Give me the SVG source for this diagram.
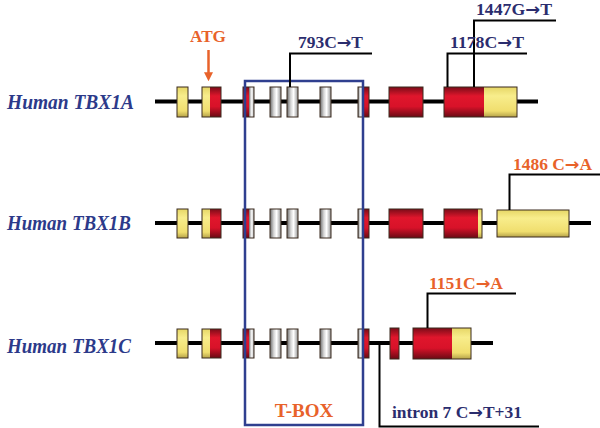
<svg xmlns="http://www.w3.org/2000/svg" width="600" height="428" viewBox="0 0 600 428">
<defs>
<linearGradient id="gRed" x1="0" y1="0" x2="0" y2="1">
<stop offset="0" stop-color="#7a0c18"/>
<stop offset="0.3" stop-color="#e0162c"/>
<stop offset="0.65" stop-color="#d81229"/>
<stop offset="1" stop-color="#6a0a14"/>
</linearGradient>
<linearGradient id="gYel" x1="0" y1="0" x2="0" y2="1">
<stop offset="0" stop-color="#e6d666"/>
<stop offset="0.3" stop-color="#f8ed8c"/>
<stop offset="0.8" stop-color="#f0de6e"/>
<stop offset="1" stop-color="#b5a24a"/>
</linearGradient>
<linearGradient id="gWht" x1="0" y1="0" x2="1" y2="0">
<stop offset="0" stop-color="#6a6a6a"/>
<stop offset="0.35" stop-color="#d6d6d6"/>
<stop offset="0.6" stop-color="#ffffff"/>
<stop offset="1" stop-color="#949494"/>
</linearGradient>
<marker id="arrOrange" viewBox="0 0 10 10" refX="2" refY="5" markerWidth="9" markerHeight="10" markerUnits="userSpaceOnUse" orient="auto">
<path d="M0,0 L10,5 L0,10 Z" fill="#e8622a"/>
</marker>
</defs>
<style>
.bb{stroke:#000;stroke-width:4;fill:none}
.r{fill:url(#gRed)}
.y{fill:url(#gYel)}
.w{fill:url(#gWht)}
.o{fill:none;stroke:#3a2a1e;stroke-width:1}
.lbl{font-family:"Liberation Serif","Times New Roman",serif;font-weight:bold;font-style:italic;font-size:20px;fill:#2c3a8a}
.mut{font-family:"Liberation Serif","Times New Roman",serif;font-weight:bold;font-size:16.5px;fill:#2b2d6e}
.mo{font-family:"Liberation Serif","Times New Roman",serif;font-weight:bold;font-size:16.5px;fill:#e8622a}
.ar{font-family:"DejaVu Sans",sans-serif;font-weight:bold}
.ld{stroke:#000;stroke-width:2;fill:none}
</style>
<rect width="600" height="428" fill="#ffffff"/>

<g id="geneA">
<text class="lbl" x="7" y="109" textLength="127" lengthAdjust="spacingAndGlyphs">Human TBX1A</text>
<line class="bb" x1="155" y1="101.5" x2="538" y2="101.5"/>
<rect class="y" x="177" y="87" width="11" height="30"/><rect class="o" x="177" y="87" width="11" height="30"/>
<rect class="y" x="202" y="87" width="8" height="30"/><rect class="r" x="210" y="87" width="11" height="30"/><rect class="o" x="202" y="87" width="19" height="30"/>
<rect class="r" x="243" y="87" width="6" height="30"/><rect class="w" x="249" y="87" width="5" height="30"/><rect class="o" x="243" y="87" width="11" height="30"/>
<rect class="w" x="270" y="87" width="11" height="30"/><rect class="o" x="270" y="87" width="11" height="30"/>
<rect class="w" x="287" y="87" width="11" height="30"/><rect class="o" x="287" y="87" width="11" height="30"/>
<rect class="w" x="320" y="87" width="11" height="30"/><rect class="o" x="320" y="87" width="11" height="30"/>
<rect class="w" x="358" y="87" width="5" height="30"/><rect class="r" x="363" y="87" width="6" height="30"/><rect class="o" x="358" y="87" width="11" height="30"/>
<rect class="r" x="389" y="87" width="34" height="30"/><rect class="o" x="389" y="87" width="34" height="30"/>
<rect class="r" x="444" y="87" width="40" height="30"/><rect class="y" x="484" y="87" width="33" height="30"/><rect class="o" x="444" y="87" width="73" height="30"/>
</g>

<g id="geneB">
<text class="lbl" x="7" y="230" textLength="124" lengthAdjust="spacingAndGlyphs">Human TBX1B</text>
<line class="bb" x1="155" y1="223" x2="591" y2="223"/>
<rect class="y" x="177" y="209" width="11" height="29"/><rect class="o" x="177" y="209" width="11" height="29"/>
<rect class="y" x="202" y="209" width="8" height="29"/><rect class="r" x="210" y="209" width="11" height="29"/><rect class="o" x="202" y="209" width="19" height="29"/>
<rect class="r" x="243" y="209" width="6" height="29"/><rect class="w" x="249" y="209" width="5" height="29"/><rect class="o" x="243" y="209" width="11" height="29"/>
<rect class="w" x="270" y="209" width="11" height="29"/><rect class="o" x="270" y="209" width="11" height="29"/>
<rect class="w" x="287" y="209" width="11" height="29"/><rect class="o" x="287" y="209" width="11" height="29"/>
<rect class="w" x="320" y="209" width="11" height="29"/><rect class="o" x="320" y="209" width="11" height="29"/>
<rect class="w" x="358" y="209" width="5" height="29"/><rect class="r" x="363" y="209" width="6" height="29"/><rect class="o" x="358" y="209" width="11" height="29"/>
<rect class="r" x="389" y="209" width="34" height="29"/><rect class="o" x="389" y="209" width="34" height="29"/>
<rect class="r" x="444" y="209" width="34" height="29"/><rect class="y" x="478" y="209" width="4" height="29"/><rect class="o" x="444" y="209" width="38" height="29"/>
<rect class="y" x="497" y="210" width="72" height="27"/><rect class="o" x="497" y="210" width="72" height="27"/>
</g>

<g id="geneC">
<text class="lbl" x="7" y="353" textLength="124" lengthAdjust="spacingAndGlyphs">Human TBX1C</text>
<line class="bb" x1="155" y1="343" x2="493" y2="343"/>
<rect class="y" x="177" y="329" width="11" height="29"/><rect class="o" x="177" y="329" width="11" height="29"/>
<rect class="y" x="202" y="329" width="8" height="29"/><rect class="r" x="210" y="329" width="11" height="29"/><rect class="o" x="202" y="329" width="19" height="29"/>
<rect class="r" x="243" y="329" width="6" height="29"/><rect class="w" x="249" y="329" width="5" height="29"/><rect class="o" x="243" y="329" width="11" height="29"/>
<rect class="w" x="270" y="329" width="11" height="29"/><rect class="o" x="270" y="329" width="11" height="29"/>
<rect class="w" x="287" y="329" width="11" height="29"/><rect class="o" x="287" y="329" width="11" height="29"/>
<rect class="w" x="320" y="329" width="11" height="29"/><rect class="o" x="320" y="329" width="11" height="29"/>
<rect class="w" x="358" y="329" width="5" height="29"/><rect class="r" x="363" y="329" width="6" height="29"/><rect class="o" x="358" y="329" width="11" height="29"/>
<rect class="r" x="390" y="328" width="9" height="31"/><rect class="o" x="390" y="328" width="9" height="31"/>
<rect class="r" x="413" y="328" width="39" height="31"/><rect class="y" x="452" y="328" width="19" height="31"/><rect class="o" x="413" y="328" width="58" height="31"/>
</g>

<g id="tbox">
<rect x="245" y="81" width="118" height="344" fill="none" stroke="#2f3f8f" stroke-width="2.5"/>
<text class="mo" x="304" y="416.5" text-anchor="middle" style="font-size:19px">T-BOX</text>
</g>

<g id="connectors">
<line x1="208.5" y1="50" x2="208.5" y2="74" stroke="#e8622a" stroke-width="2.5" marker-end="url(#arrOrange)"/>
<polyline class="ld" points="372,53.5 290,53.5 290,87"/>
<polyline class="ld" points="527,53.5 447.5,53.5 447.5,87"/>
<polyline class="ld" points="556,20.5 474,20.5 474,87"/>
<polyline class="ld" points="600,174.5 509.5,174.5 509.5,210"/>
<polyline class="ld" points="516,293.5 427.5,293.5 427.5,328"/>
<polyline class="ld" points="379.5,345 379.5,426.5 539,426.5"/>
</g>

<g id="labelATG"><text class="mo" x="190" y="41.5" textLength="36" lengthAdjust="spacingAndGlyphs">ATG</text></g>
<g id="mut793"><text class="mut" x="298" y="48" textLength="65" lengthAdjust="spacingAndGlyphs">793C<tspan class="ar">→</tspan>T</text></g>
<g id="mut1178"><text class="mut" x="450" y="48" textLength="74" lengthAdjust="spacingAndGlyphs">1178C<tspan class="ar">→</tspan>T</text></g>
<g id="mut1447"><text class="mut" x="476" y="15" textLength="76" lengthAdjust="spacingAndGlyphs">1447G<tspan class="ar">→</tspan>T</text></g>
<g id="mut1486"><text class="mo" x="513" y="170" textLength="79" lengthAdjust="spacingAndGlyphs">1486 C<tspan class="ar">→</tspan>A</text></g>
<g id="mut1151"><text class="mo" x="429" y="288.5" textLength="74" lengthAdjust="spacingAndGlyphs">1151C<tspan class="ar">→</tspan>A</text></g>
<g id="mutIntron"><text class="mut" x="392" y="418" textLength="130" lengthAdjust="spacingAndGlyphs">intron 7 C<tspan class="ar">→</tspan>T+31</text></g>
</svg>
